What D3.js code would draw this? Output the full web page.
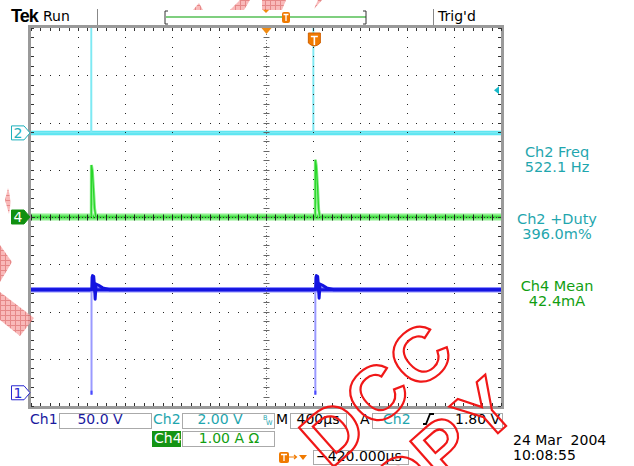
<!DOCTYPE html>
<html><head><meta charset="utf-8">
<script src="https://cdn.jsdelivr.net/npm/d3@7"></script>
<style>
html,body{margin:0;padding:0;background:#fff;overflow:hidden}
svg{display:block;font-family:"DejaVu Sans",sans-serif}
</style>
</head><body>
<svg id="scope" width="634" height="466"></svg>
<script>
// ---------- acquisition settings ----------
const timePerDiv = 400;          // µs per division
const triggerDelay = -420;       // µs, screen centre relative to trigger
const divisionsX = 10, divisionsY = 8;

const channelNames  = ["Ch1", "Ch2", "Ch4"];
const channelScales = [50, 2, 1];          // V/div, V/div, A/div
const channelGround = [-3.72, 1.78, 0];    // ground reference, divisions from centre
const channelBase   = [109, 0, 0];         // steady level of each trace
const triggerLevel  = 1.80;                // V on Ch2

// ---------- captured waveforms: [time µs from trigger, value] ----------
const ch2Trace = [
  [-2420, 0], [-1909, 0], [-1908, 5.5], [-1906, 5.5], [-1905, 0],
  [-19, 0], [-18, 5.5], [-16, 5.5], [-15, 0], [1580, 0]
];
const ch4Trace = [
  [-2420, 0], [-1907, 0], [-1906, 1.10], [-1898, 0.98], [-1889, 0.62], [-1879, 0.18], [-1868, 0],
  [-1, 0], [0, 1.21], [8, 1.08], [18, 0.66], [28, 0.16], [38, 0], [1580, 0]
];
const ch1Trace = [
  [-2420, 109], [-1903, 109], [-1900, 122], [-1896, 124], [-1886, 123], [-1880, 113], [-1874, 99],
  [-1866, 115], [-1848, 114], [-1810, 111], [-1750, 109],
  [2, 109], [5, 122], [9, 124], [20, 123], [26, 113], [32, 100],
  [40, 115], [58, 114], [96, 111], [156, 109], [1580, 109]
];
const ch1Spikes = [[-1905, -2], [0, -2]];

// ---------- readouts ----------
const measureLabels = ["Ch2 Freq", "Ch2 +Duty", "Ch4 Mean"];
const measureValues = ["522.1 Hz", "396.0m%", "42.4mA"];
const measureColors = ["#1fa6ae", "#1fa6ae", "#119e11"];
const scaleTexts = ["50.0 V", "2.00 V", "1.00 A \u03A9"];
const timebaseText = "400\u00B5s";
const delayText = "\u2212420.000\u00B5s";
const dateText = ["24 Mar  2004", "10:08:55"];

// ---------- geometry ----------
const svg = d3.select("#scope");
const gx0 = 31, gx1 = 501, gy0 = 28, gy1 = 406;

const x = d3.scaleLinear()
  .domain([triggerDelay - timePerDiv * divisionsX / 2, triggerDelay + timePerDiv * divisionsX / 2])
  .range([gx0, gx1]);
const divX = d3.scaleLinear().domain([0, divisionsX]).range([gx0, gx1]);
const divY = d3.scaleLinear().domain([-divisionsY / 2, divisionsY / 2]).range([gy1, gy0]);
const chY = i => v => divY(channelGround[i] + v / channelScales[i]);

const defs = svg.append("defs");
defs.append("clipPath").attr("id", "grat")
  .append("rect").attr("x", gx0).attr("y", gy0).attr("width", gx1 - gx0).attr("height", gy1 - gy0);
const hatch = defs.append("pattern").attr("id", "hatch")
  .attr("patternUnits", "userSpaceOnUse").attr("width", 5).attr("height", 5);
hatch.append("rect").attr("width", 5).attr("height", 5).attr("fill", "#f7a8a8");
hatch.append("path").attr("d", "M0,0.5H5M0.5,0V5").attr("stroke", "#e06a6a").attr("stroke-width", 1);

// ---------- top status bar ----------
svg.append("text").attr("x", 11).attr("y", 22).attr("font-family", "Liberation Sans, sans-serif")
  .attr("font-weight", "bold").attr("font-size", 18).attr("letter-spacing", -1).text("Tek");
svg.append("text").attr("x", 43).attr("y", 21).attr("font-size", 14).text("Run");
[97, 433].forEach(px => svg.append("line").attr("x1", px + .5).attr("x2", px + .5)
  .attr("y1", 9).attr("y2", 25).attr("stroke", "#888"));
svg.append("text").attr("x", 438).attr("y", 21).attr("font-size", 14).text("Trig'd");
svg.append("line").attr("x1", 166).attr("x2", 366).attr("y1", 17).attr("y2", 17)
  .attr("stroke", "#7fcf7f").attr("stroke-width", 2);
svg.append("path").attr("d", "M168,11H165V24H168M363,11H366V24H363")
  .attr("fill", "none").attr("stroke", "#333").attr("stroke-width", 1);
svg.append("path").attr("d", "M262,9H270L266,13Z").attr("fill", "#f08a10");
svg.append("rect").attr("x", 282).attr("y", 12).attr("width", 8).attr("height", 11).attr("rx", 2)
  .attr("fill", "#f07a00");
svg.append("path").attr("d", "M283.5,14.5H288.5M286,14.5V21").attr("stroke", "#fff").attr("stroke-width", 1.3);

// ---------- traces ----------
const traces = svg.append("g").attr("clip-path", "url(#grat)");
const line = i => d3.line().x(d => x(d[0])).y(d => chY(i)(d[1]));
const bandStyles = [
  {outer: "#8c8cff", outerW: 5.5, inner: "#1414e0", innerW: 3},
  {outer: "#a6f1f7", outerW: 5, inner: "#16dcec", innerW: 3},
  {outer: "#8ef08e", outerW: 7, inner: "#14d414", innerW: 3}
];
const traceData = [ch1Trace, ch2Trace, ch4Trace];
traceData.forEach((tr, i) => {
  const flat = [[x.domain()[0], channelBase[i]], [x.domain()[1], channelBase[i]]];
  const st = bandStyles[i];
  traces.append("path").attr("d", line(i)(flat)).attr("fill", "none")
    .attr("stroke", st.outer).attr("stroke-width", st.outerW);
  traces.append("path").attr("d", line(i)(flat)).attr("fill", "none")
    .attr("stroke", st.inner).attr("stroke-width", st.innerW);
});
// Ch1 fast negative edges
traces.selectAll(".spk").data(ch1Spikes).join("line")
  .attr("x1", d => x(d[0])).attr("x2", d => x(d[0]))
  .attr("y1", chY(0)(channelBase[0])).attr("y2", d => chY(0)(d[1]))
  .attr("stroke", "#9a9aff").attr("stroke-width", 2);
traces.selectAll(".spkEnd").data(ch1Spikes).join("rect")
  .attr("x", d => x(d[0]) - 1).attr("y", d => chY(0)(d[1]) - 4)
  .attr("width", 2).attr("height", 4).attr("fill", "#4a4aff");
// detailed waveform paths
traces.append("path").attr("d", line(1)(ch2Trace)).attr("fill", "none")
  .attr("stroke", "#7ee9f3").attr("stroke-width", 1.6);
traces.append("path").attr("d", line(2)(ch4Trace)).attr("fill", "none")
  .attr("stroke", "#86ee86").attr("stroke-width", 3);
traces.append("path").attr("d", line(2)(ch4Trace)).attr("fill", "none")
  .attr("stroke", "#2ad62a").attr("stroke-width", 1.3);
traces.append("path").attr("d", line(0)(ch1Trace)).attr("fill", "none")
  .attr("stroke", "#1414e0").attr("stroke-width", 3).attr("stroke-linejoin", "round");

// ---------- graticule ----------
const grid = svg.append("g");
const minorX = d3.range(0, divisionsX * 5 + 1).map(k => k / 5);
const minorY = d3.range(0, divisionsY * 5 + 1).map(k => k / 5 - divisionsY / 2);
const dotCol = "#222";
// dotted major lines
d3.range(1, divisionsX).filter(k => k !== divisionsX / 2).forEach(k => {
  minorY.forEach(v => grid.append("rect").attr("x", Math.round(divX(k))).attr("y", Math.round(divY(v)))
    .attr("width", 1).attr("height", 1).attr("fill", dotCol));
});
d3.range(-divisionsY / 2 + 1, divisionsY / 2).filter(k => k !== 0).forEach(k => {
  minorX.forEach(v => grid.append("rect").attr("x", Math.round(divX(v))).attr("y", Math.round(divY(k)))
    .attr("width", 1).attr("height", 1).attr("fill", dotCol));
});
// centre cross with ticks
const cx = Math.round(divX(divisionsX / 2)) + .5, cy = Math.round(divY(0)) + .5;
grid.append("line").attr("x1", cx).attr("x2", cx).attr("y1", gy0).attr("y2", gy1)
  .attr("stroke", "#777").attr("stroke-dasharray", "1,2");
grid.append("line").attr("x1", gx0).attr("x2", gx1).attr("y1", cy).attr("y2", cy)
  .attr("stroke", "#333").attr("stroke-dasharray", "1,2");
minorY.forEach(v => grid.append("line").attr("x1", cx - 3).attr("x2", cx + 3)
  .attr("y1", Math.round(divY(v)) + .5).attr("y2", Math.round(divY(v)) + .5).attr("stroke", "#666"));
minorX.forEach(v => grid.append("line").attr("y1", cy - 3).attr("y2", cy + 3)
  .attr("x1", Math.round(divX(v)) + .5).attr("x2", Math.round(divX(v)) + .5).attr("stroke", "#222"));
// frame
grid.append("rect").attr("x", gx0 - 1.5).attr("y", gy0 - 1.5).attr("width", gx1 - gx0 + 3)
  .attr("height", gy1 - gy0 + 3).attr("fill", "none").attr("stroke", "#9a9a9a").attr("stroke-width", 3);
minorX.forEach(v => {
  const px = Math.round(divX(v)) + .5;
  grid.append("line").attr("x1", px).attr("x2", px).attr("y1", gy0).attr("y2", gy0 + 3).attr("stroke", "#333");
  grid.append("line").attr("x1", px).attr("x2", px).attr("y1", gy1 - 3).attr("y2", gy1).attr("stroke", "#333");
});
minorY.forEach(v => {
  const py = Math.round(divY(v)) + .5;
  grid.append("line").attr("x1", gx0).attr("x2", gx0 + 3).attr("y1", py).attr("y2", py).attr("stroke", "#333");
  grid.append("line").attr("x1", gx1 - 3).attr("x2", gx1).attr("y1", py).attr("y2", py).attr("stroke", "#333");
});

// ---------- markers ----------
// horizontal centre and trigger point
svg.append("path").attr("d", `M${cx - 5},${gy0}H${cx + 5}L${cx},${gy0 + 6}Z`).attr("fill", "#f08a10");
const tx = x(0) - 1;
svg.append("path").attr("d", `M${tx - 6},${gy0 + 5}H${tx + 6}V${gy0 + 15}Q${tx},${gy0 + 21} ${tx - 6},${gy0 + 15}Z`)
  .attr("fill", "#f07a00").attr("stroke", "#d06000");
svg.append("path").attr("d", `M${tx - 3.5},${gy0 + 8.5}H${tx + 3.5}M${tx},${gy0 + 8.5}V${gy0 + 17}`)
  .attr("stroke", "#fff").attr("stroke-width", 1.6);
// trigger level
const tly = chY(1)(triggerLevel);
svg.append("path").attr("d", `M${gx1 - 7},${tly}L${gx1 - 2},${tly - 4}V${tly + 4}Z`).attr("fill", "#18b8c8");

// channel ground markers
const markerStyle = [
  {label: "1", stroke: "#2a2ad0", fill: "#fff", text: "#2a2ad0"},
  {label: "2", stroke: "#1fb0bc", fill: "#fff", text: "#1fb0bc"},
  {label: "4", stroke: "#109010", fill: "#109010", text: "#fff"}
];
channelGround.forEach((g, i) => {
  const y = divY(g), m = markerStyle[i];
  svg.append("path").attr("d", `M11.5,${y - 7}H24L30,${y}L24,${y + 7}H11.5Z`)
    .attr("fill", m.fill).attr("stroke", m.stroke).attr("stroke-width", 1);
  svg.append("text").attr("x", 18).attr("y", y + 5).attr("text-anchor", "middle")
    .attr("font-size", 14).attr("fill", m.text).text(m.label);
});

// ---------- measurements ----------
measureLabels.forEach((lab, i) => {
  const y0 = [157, 224, 291][i];
  const g = svg.append("g").attr("fill", measureColors[i]).attr("font-size", 14.5).attr("text-anchor", "middle");
  g.append("text").attr("x", 557).attr("y", y0).text(lab);
  g.append("text").attr("x", 557).attr("y", y0 + 15).text(measureValues[i]);
});

// ---------- bottom readouts ----------
const box = (x0, y0, w, h) => svg.append("rect").attr("x", x0 + .5).attr("y", y0 + .5)
  .attr("width", w).attr("height", h).attr("fill", "none").attr("stroke", "#aaa");
const txt = (x0, y0, s, col, anchor) => svg.append("text").attr("x", x0).attr("y", y0)
  .attr("font-size", 14).attr("fill", col).attr("text-anchor", anchor || "start").text(s);

txt(30, 424, channelNames[0], "#1a1a9e");
box(59, 413, 92, 15); txt(100, 424, scaleTexts[0], "#1a1a9e", "middle");
txt(153, 424, channelNames[1], "#1fa6ae");
box(182, 413, 92, 15); txt(220, 424, scaleTexts[1], "#1fa6ae", "middle");
svg.append("text").attr("x", 263).attr("y", 420).attr("font-size", 6.5).attr("fill", "#1fa6ae").text("B");
svg.append("text").attr("x", 266).attr("y", 425).attr("font-size", 6.5).attr("fill", "#1fa6ae").text("W");
txt(276, 424, "M", "#000");
box(290, 413, 56, 15); txt(318, 424, timebaseText, "#000", "middle");
txt(360, 424, "A", "#000");
box(372, 413, 130, 15);
txt(383, 424, channelNames[1], "#1fa6ae");
svg.append("path").attr("d", "M423,424H426L430,414H434").attr("fill", "none").attr("stroke", "#000").attr("stroke-width", 1.8);
txt(455, 424, triggerLevel.toFixed(2) + " V", "#000");

svg.append("rect").attr("x", 152).attr("y", 431).attr("width", 29).attr("height", 16).attr("fill", "#149414");
txt(154, 443, channelNames[2], "#fff");
box(182, 431, 92, 15); txt(229, 443, scaleTexts[2], "#119e11", "middle");

svg.append("rect").attr("x", 279).attr("y", 452).attr("width", 10).attr("height", 11).attr("rx", 2).attr("fill", "#f07a00");
svg.append("path").attr("d", "M281,454.5H287M284,454.5V461").attr("stroke", "#fff").attr("stroke-width", 1.3);
svg.append("path").attr("d", "M289,457H296M294,455L296.5,457L294,459").attr("fill", "none").attr("stroke", "#f07a00").attr("stroke-width", 1.2);
svg.append("path").attr("d", "M299,455H307L303,460Z").attr("fill", "#f07a00");
box(313, 450, 95, 14); txt(316, 461, delayText, "#000");

txt(513, 445, dateText[0], "#000").attr("xml:space", "preserve");
txt(513, 460, dateText[1], "#000");

// ---------- copy stamp overlay ----------
const stampShapes = [
  "M193,10L199,3L203,10Z", "M230,10L240,0H250L244,10Z", "M262,10V0H286L282,10Z", "M314,9L318,0H322Z",
  "M0,245L12,262L0,282Z", "M0,292L34,318L20,336L0,320Z", "M8,188Q12,200 9,214L5,200Z"
];
svg.append("g").selectAll("path").data(stampShapes).join("path")
  .attr("d", d => d).attr("fill", "url(#hatch)").attr("opacity", .8);

const stamp = svg.append("g").attr("transform", "translate(333,432) rotate(-41.6)")
  .attr("font-family", "Liberation Sans, sans-serif").attr("font-weight", "bold").attr("font-size", 76)
  .attr("fill", "none").attr("stroke", "#f01818").attr("stroke-width", 2.2)
  .attr("text-anchor", "middle").attr("dominant-baseline", "central");
[["D", 0, 0], ["C", 58, 0], ["C", 116, 0], ["O", 16, 84], ["P", 72, 84], ["Y", 128, 84]]
  .forEach(([ch, lx, ly]) => stamp.append("text").attr("x", lx).attr("y", ly).text(ch));
</script>
</body></html>
